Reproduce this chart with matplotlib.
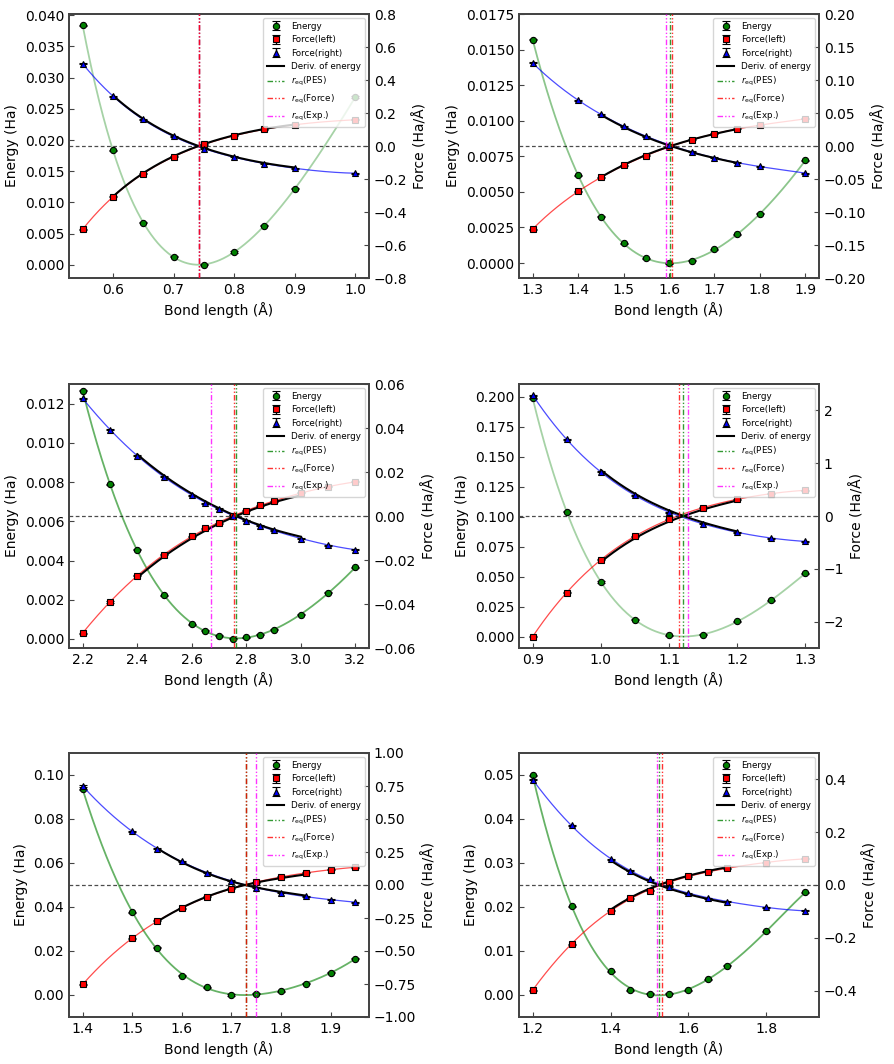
import numpy as np
import matplotlib
matplotlib.use('Agg')
import matplotlib.pyplot as plt
from matplotlib.ticker import MultipleLocator
from numpy.polynomial import Polynomial

# ---------------- data ----------------
# Panel 1
r_1 = [0.55, 0.60, 0.65, 0.70, 0.75, 0.80, 0.85, 0.90, 1.00]
energy_1 = [0.0384, 0.01838, 0.00678, 0.00127, 0.00005, 0.00207, 0.0063, 0.01219, 0.0269]
fleft_1 = [-0.505, -0.308, -0.167, -0.066, 0.010, 0.062, 0.101, 0.129, 0.159]
fright_1 = [0.499, 0.302, 0.161, 0.058, -0.018, -0.066, -0.107, -0.135, -0.165]
req_1 = [0.7414, 0.7414, 0.7414]          # PES, Force, Exp.

# Panel 2
r_2 = [1.30, 1.40, 1.45, 1.50, 1.55, 1.60, 1.65, 1.70, 1.75, 1.80, 1.90]
energy_2 = [0.01570, 0.00618, 0.00325, 0.00138, 0.00035, 0.0000, 0.00016, 0.00096, 0.00201, 0.00346, 0.00721]
fleft_2 = [-0.1259, -0.0689, -0.0477, -0.0295, -0.0144, -0.0013, 0.0093, 0.0184, 0.0260, 0.0315, 0.0411]
fright_2 = [0.1259, 0.0694, 0.0482, 0.0300, 0.0144, 0.0018, -0.0088, -0.0179, -0.0255, -0.0310, -0.0411]
req_2 = [1.602, 1.607, 1.594]

# Panel 3
r_3 = [2.20, 2.30, 2.40, 2.50, 2.60, 2.65, 2.70, 2.75, 2.80, 2.85, 2.90, 3.00, 3.10, 3.20]
energy_3 = [0.01266, 0.00789, 0.00454, 0.00223, 0.00075, 0.00041, 0.00017, 0.00002, 0.00008,
            0.00022, 0.00048, 0.00124, 0.00235, 0.00365]
fleft_3 = [-0.0532, -0.0391, -0.0271, -0.0176, -0.0092, -0.0056, -0.0032, 0.0002, 0.0023,
           0.0048, 0.0067, 0.0105, 0.0133, 0.0155]
fright_3 = [0.0535, 0.0392, 0.0274, 0.0179, 0.0094, 0.0058, 0.0033, 0.0000, -0.0021,
            -0.0045, -0.0064, -0.0103, -0.0132, -0.0153]
req_3 = [2.762, 2.756, 2.671]

# Panel 4
r_4 = [0.90, 0.95, 1.00, 1.05, 1.10, 1.15, 1.20, 1.25, 1.30]
energy_4 = [0.1989, 0.1042, 0.0456, 0.0142, 0.0014, 0.0017, 0.0128, 0.0303, 0.0528]
fleft_4 = [-2.285, -1.449, -0.829, -0.386, -0.063, 0.158, 0.316, 0.424, 0.487]
fright_4 = [2.291, 1.449, 0.835, 0.392, 0.070, -0.146, -0.310, -0.418, -0.481]
req_4 = [1.1205, 1.1142, 1.1284]

# Panel 5
r_5 = [1.40, 1.50, 1.55, 1.60, 1.65, 1.70, 1.75, 1.80, 1.85, 1.90, 1.95]
energy_5 = [0.0935, 0.0376, 0.0215, 0.0088, 0.0036, 0.0000, 0.0006, 0.0018, 0.0052, 0.0102, 0.0164]
fleft_5 = [-0.753, -0.405, -0.271, -0.178, -0.090, -0.029, 0.021, 0.062, 0.092, 0.115, 0.135]
fright_5 = [0.750, 0.407, 0.274, 0.181, 0.092, 0.032, -0.021, -0.059, -0.087, -0.112, -0.130]
req_5 = [1.729, 1.729, 1.749]

# Panel 6
r_6 = [1.20, 1.30, 1.40, 1.45, 1.50, 1.55, 1.60, 1.65, 1.70, 1.80, 1.90]
energy_6 = [0.0499, 0.0202, 0.0054, 0.0011, 0.0003, 0.0003, 0.0011, 0.0036, 0.0066, 0.0145, 0.0233]
fleft_6 = [-0.398, -0.224, -0.097, -0.051, -0.021, 0.0095, 0.0335, 0.050, 0.064, 0.085, 0.099]
fright_6 = [0.399, 0.226, 0.098, 0.054, 0.021, -0.007, -0.031, -0.050, -0.063, -0.084, -0.098]
req_6 = [1.5235, 1.5325, 1.520]

# Range used for the derivative of the energy
deriv_range = [(0.60, 0.90), (1.45, 1.75), (2.40, 3.00), (1.00, 1.20), (1.55, 1.85), (1.40, 1.70)]

labels = ['Energy', 'Force(left)', 'Force(right)', 'Deriv. of energy',
          r'$r_{\rm eq}$(PES)', r'$r_{\rm eq}$(Force)', r'$r_{\rm eq}$(Exp.)']

# ---------------- style per panel ----------------
W, H = 894, 1064
def rect(l, t):
    return [l / W, 1 - (t + 264) / H, 300 / W, 264 / H]

panels = [
    dict(r=r_1, e=energy_1, fl=fleft_1, fr=fright_1, req=req_1, rect=rect(69, 14),
         elim=(-0.0021, 0.0402), flim=(-0.8, 0.8), xs=0.1, es=0.005, fs=0.2, ga=0.35),
    dict(r=r_2, e=energy_2, fl=fleft_2, fr=fright_2, req=req_2, rect=rect(519, 14),
         elim=(-0.00105, 0.0175), flim=(-0.2, 0.2), xs=0.1, es=0.0025, fs=0.05, ga=0.45),
    dict(r=r_3, e=energy_3, fl=fleft_3, fr=fright_3, req=req_3, rect=rect(69, 384),
         elim=(-0.00046, 0.0130), flim=(-0.06, 0.06), xs=0.2, es=0.002, fs=0.02, ga=0.6),
    dict(r=r_4, e=energy_4, fl=fleft_4, fr=fright_4, req=req_4, rect=rect(519, 384),
         elim=(-0.0094, 0.2106), flim=(-2.5, 2.5), xs=0.1, es=0.025, fs=1.0, ga=0.35),
    dict(r=r_5, e=energy_5, fl=fleft_5, fr=fright_5, req=req_5, rect=rect(69, 753),
         elim=(-0.01, 0.11), flim=(-1.0, 1.0), xs=0.1, es=0.02, fs=0.25, ga=0.6),
    dict(r=r_6, e=energy_6, fl=fleft_6, fr=fright_6, req=req_6, rect=rect(519, 753),
         elim=(-0.005, 0.055), flim=(-0.5, 0.5), xs=0.2, es=0.01, fs=0.2, ga=0.6),
]

fig = plt.figure(figsize=(W / 100, H / 100), dpi=100)
spine_c = '#444444'
dashdotdot = (0, (4, 1.5, 1, 1.5, 1, 1.5))

for p, (d0, d1) in zip(panels, deriv_range):
    r = np.array(p['r']); e = np.array(p['e'])
    fl = np.array(p['fl']); fr = np.array(p['fr'])
    ax = fig.add_axes(p['rect'])
    ax2 = ax.twinx()
    xs = np.linspace(r.min(), r.max(), 400)

    # energy fit
    pe = Polynomial.fit(r, e, 6)
    ax.plot(xs, pe(xs), color='green', alpha=p['ga'], lw=1.3, zorder=1)
    he = ax.errorbar(r, e, yerr=0.00002 * (p['elim'][1] - p['elim'][0]) / 0.01, fmt='o',
                     color='green', mec='k', mew=0.8, ms=4.5, ecolor='k', elinewidth=1,
                     capsize=3, zorder=3)

    # force fits
    pl = Polynomial.fit(r, fl, 5)
    pr = Polynomial.fit(r, fr, 5)
    ax2.plot(xs, pl(xs), color='red', alpha=0.7, lw=0.9, zorder=1)
    ax2.plot(xs, pr(xs), color='blue', alpha=0.7, lw=0.9, zorder=1)

    # derivative of energy (from the energy fit)
    pd = pe.deriv()
    xd = np.linspace(d0, d1, 200)
    hd, = ax2.plot(xd, pd(xd), color='k', lw=1.5, zorder=2)
    ax2.plot(xd, -pd(xd), color='k', lw=1.5, zorder=2)

    ferr = 0.002 * (p['flim'][1] - p['flim'][0])
    hl = ax2.errorbar(r, fl, yerr=ferr, fmt='s', color='red', mec='k', mew=0.8, ms=4.5,
                      ecolor='k', elinewidth=1, capsize=3, zorder=4)
    hr = ax2.errorbar(r, fr, yerr=ferr, fmt='^', color='blue', mec='k', mew=0.8, ms=4.5,
                      ecolor='k', elinewidth=1, capsize=3, zorder=4)

    ax2.axhline(0, color='k', ls='--', lw=0.9, alpha=0.7, dashes=(3, 2), zorder=1)
    hp = ax2.axvline(p['req'][0], color='green', ls=dashdotdot, lw=1.0, alpha=0.8, zorder=5)
    hx = ax2.axvline(p['req'][2], color='magenta', ls=dashdotdot, lw=1.0, alpha=0.8, zorder=5)
    hf = ax2.axvline(p['req'][1], color='red', ls=dashdotdot, lw=1.0, alpha=0.8, zorder=6)

    ax.set_ylim(*p['elim'])
    ax2.set_ylim(*p['flim'])
    ax.xaxis.set_major_locator(MultipleLocator(p['xs']))
    ax.yaxis.set_major_locator(MultipleLocator(p['es']))
    ax2.yaxis.set_major_locator(MultipleLocator(p['fs']))

    ax.set_xlabel('Bond length (Å)', fontsize=10)
    ax.set_ylabel('Energy (Ha)', fontsize=10)
    ax2.set_ylabel('Force (Ha/Å)', fontsize=10)
    for a in (ax, ax2):
        a.tick_params(direction='in', labelsize=10, length=3.5, color=spine_c)
        for s in a.spines.values():
            s.set_color(spine_c)
            s.set_linewidth(1.3)

    ax2.legend([he, hl, hr, hd, hp, hf, hx], labels, loc='upper right', fontsize=6.3,
               framealpha=0.8)

fig.savefig('out.png', dpi=100)
